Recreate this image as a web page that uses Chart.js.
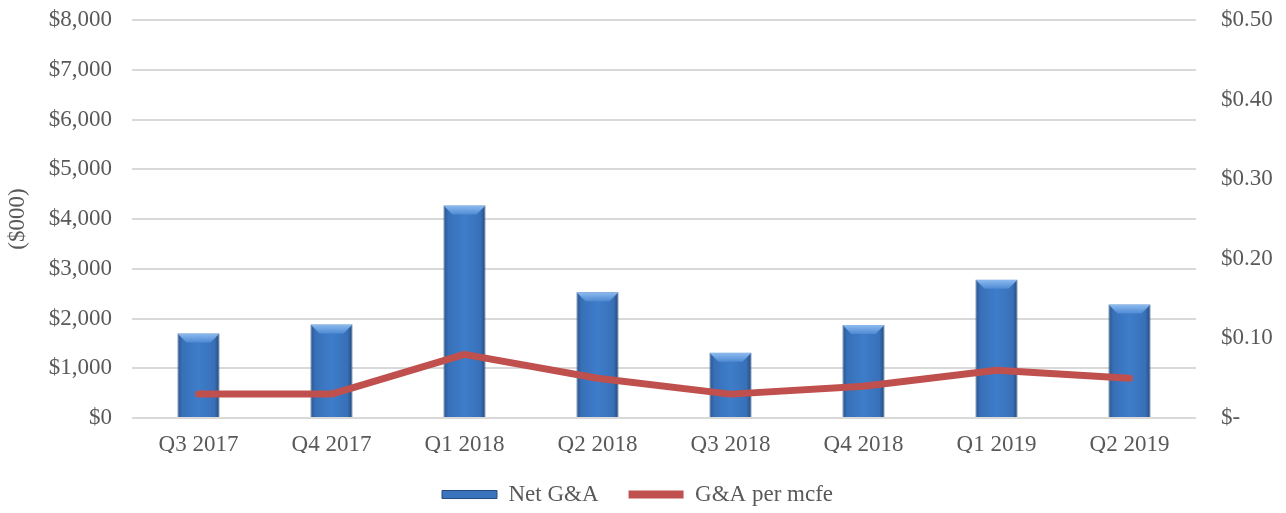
<!DOCTYPE html>
<html lang="en">
<head>
  <meta charset="UTF-8" />
  <title>Net G&amp;A</title>
  <script src="https://cdn.jsdelivr.net/npm/chart.js"></script>
  <style>
    body {
      margin: 0;
      background: #ffffff;
    }
    .chart-container {
      width: 1286px;
      height: 513px;
    }
  </style>
</head>
<body>
  <div class="chart-container">
    <canvas id="gaChart"></canvas>
  </div>

  <script>
    const quarters = ['Q3 2017', 'Q4 2017', 'Q1 2018', 'Q2 2018', 'Q3 2018', 'Q4 2018', 'Q1 2019', 'Q2 2019'];
    const netGA = [1700, 1880, 4270, 2530, 1310, 1870, 2780, 2280];      // $000
    const gaPerMcfe = [0.03, 0.03, 0.08, 0.05, 0.03, 0.04, 0.06, 0.05];  // $ per mcfe
    const leftAxis = { min: 0, max: 8000, step: 1000 };
    const rightAxis = { min: 0, max: 0.5, step: 0.1 };

    const BAR_FRACTION = 0.316;
    const LEGEND_HEIGHT = 60;

    Chart.defaults.font.family = "'Liberation Serif', 'Times New Roman', serif";
    Chart.defaults.font.size = 23;
    Chart.defaults.color = '#595959';

    // horizontal shading so the bars look like the bevelled columns
    function barFill(context) {
      const chart = context.chart;
      const xs = chart.scales.x;
      if (!xs || context.dataIndex === undefined) return '#3a74bd';
      const cx = xs.getPixelForValue(context.dataIndex);
      const w = xs.width / quarters.length * BAR_FRACTION;
      const g = chart.ctx.createLinearGradient(cx - w / 2, 0, cx + w / 2, 0);
      g.addColorStop(0, '#2a5690');
      g.addColorStop(0.12, '#3870b8');
      g.addColorStop(0.5, '#3e7dca');
      g.addColorStop(0.88, '#3870b8');
      g.addColorStop(1, '#24497a');
      return g;
    }

    const bevelPlugin = {
      id: 'bevel',
      beforeLayout(chart) {
        // wide gaps between legend items but a short legend box
        const legend = chart.legend;
        if (legend && !legend._shortFit) {
          const fit = legend.fit.bind(legend);
          legend.fit = function () { fit(); this.height = LEGEND_HEIGHT; };
          legend._shortFit = true;
        }
      },
      afterDatasetDraw(chart, args) {
        if (args.index !== 0) return;
        const ctx = chart.ctx;
        ctx.save();
        args.meta.data.forEach(el => {
          const p = el.getProps(['x', 'y', 'width'], true);
          const b = 9;
          const l = p.x - p.width / 2, r = p.x + p.width / 2;
          const g = ctx.createLinearGradient(0, p.y, 0, p.y + b);
          g.addColorStop(0, '#8dbbef');
          g.addColorStop(1, '#4f8ad4');
          ctx.beginPath();
          ctx.moveTo(l, p.y);
          ctx.lineTo(r, p.y);
          ctx.lineTo(r - b, p.y + b);
          ctx.lineTo(l + b, p.y + b);
          ctx.closePath();
          ctx.fillStyle = g;
          ctx.fill();
        });
        ctx.restore();
      }
    };

    function fixWidth(w) {
      return (scale) => {
        scale.width = w;
        scale.paddingTop = 0;
        scale.paddingBottom = 0;
      };
    }

    const ctx = document.getElementById('gaChart').getContext('2d');
    const gaChart = new Chart(ctx, {
      data: {
        labels: quarters,
        datasets: [
          {
            type: 'bar',
            label: 'Net G&A',
            data: netGA,
            yAxisID: 'y',
            backgroundColor: barFill,
            borderColor: '#234b7c',
            borderWidth: 1,
            categoryPercentage: 1,
            barPercentage: BAR_FRACTION,
            order: 1
          },
          {
            type: 'line',
            label: 'G&A per mcfe',
            data: gaPerMcfe,
            yAxisID: 'y1',
            borderColor: '#c0504d',
            backgroundColor: '#c0504d',
            borderWidth: 7,
            borderCapStyle: 'round',
            borderJoinStyle: 'round',
            pointRadius: 0,
            tension: 0,
            order: 0
          }
        ]
      },
      options: {
        responsive: true,
        maintainAspectRatio: false,
        animation: false,
        layout: {
          padding: { top: 20, right: 11, left: 0, bottom: 0 }
        },
        plugins: {
          tooltip: { enabled: false },
          legend: {
            position: 'bottom',
            labels: {
              boxWidth: 55,
              boxHeight: 8,
              padding: 30,
              color: '#595959',
              generateLabels: (chart) => chart.data.datasets.map((ds, i) => ({
                text: ds.label,
                fillStyle: i === 0 ? '#3a74bd' : '#c0504d',
                strokeStyle: i === 0 ? '#234b7c' : '#c0504d',
                lineWidth: i === 0 ? 1 : 0,
                hidden: false,
                datasetIndex: i,
                fontColor: '#595959'
              }))
            }
          }
        },
        scales: {
          x: {
            grid: { display: false, drawTicks: false },
            border: { display: false },
            ticks: { padding: 13, maxRotation: 0 },
            afterFit: (scale) => { scale.height = 35; }
          },
          y: {
            position: 'left',
            min: leftAxis.min,
            max: leftAxis.max,
            grid: { color: '#d9d9d9', lineWidth: 2, drawTicks: false },
            border: { display: false },
            title: {
              display: true,
              text: '($000)',
              color: '#595959',
              padding: { top: 4, bottom: 4 }
            },
            ticks: {
              stepSize: leftAxis.step,
              padding: 20,
              callback: (v) => '$' + v.toLocaleString('en-US')
            },
            afterFit: fixWidth(132)
          },
          y1: {
            position: 'right',
            min: rightAxis.min,
            max: rightAxis.max,
            grid: { drawOnChartArea: false, drawTicks: false },
            border: { display: false },
            ticks: {
              stepSize: rightAxis.step,
              padding: 25,
              callback: (v) => v === 0 ? '$-' : '$' + v.toFixed(2)
            },
            afterFit: fixWidth(79)
          }
        }
      },
      plugins: [bevelPlugin]
    });
  </script>
</body>
</html>
